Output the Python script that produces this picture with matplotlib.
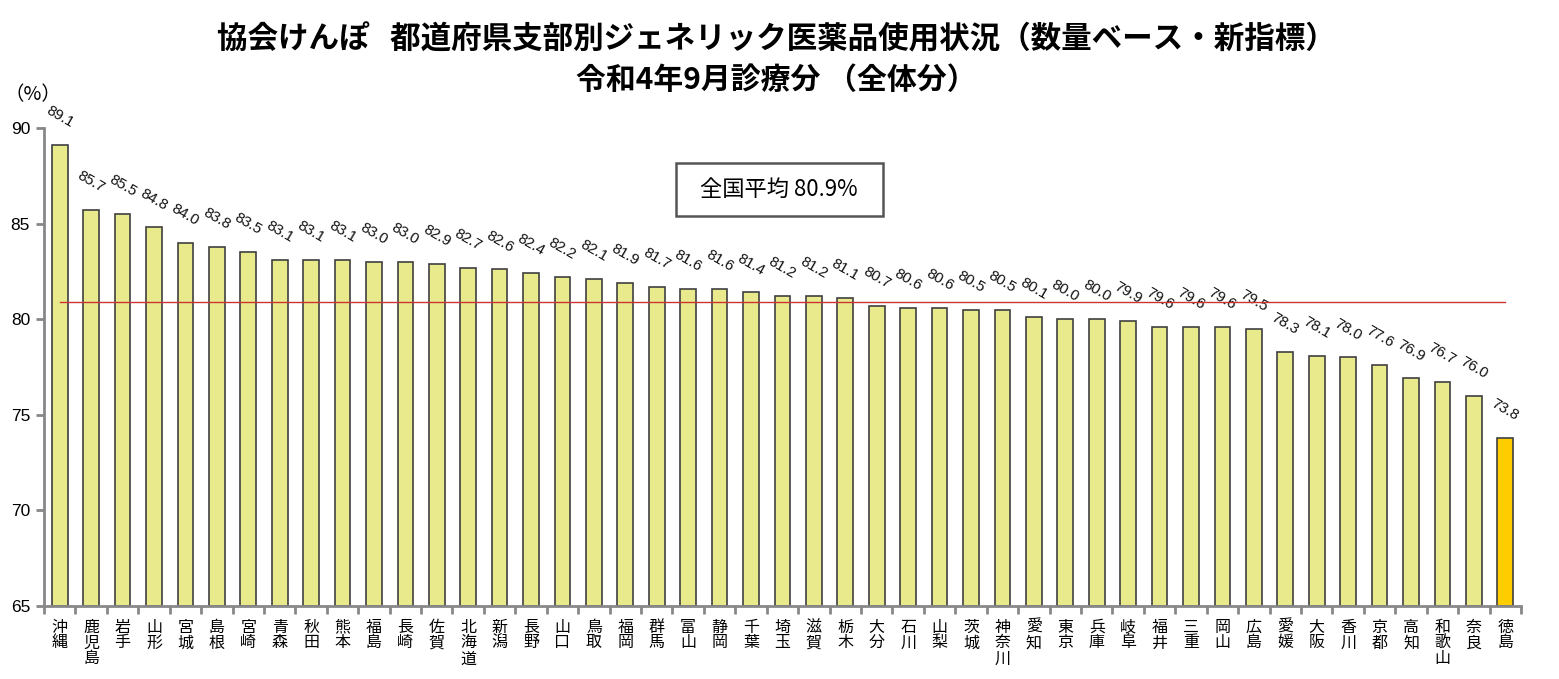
import numpy as np
import matplotlib
matplotlib.use('Agg')
import matplotlib.pyplot as plt
from matplotlib.patches import Rectangle

plt.rcParams['font.family'] = ['Noto Sans CJK JP', 'DejaVu Sans']

prefs = ['沖縄', '鹿児島', '岩手', '山形', '宮城', '島根', '宮崎', '青森', '秋田', '熊本',
         '福島', '長崎', '佐賀', '北海道', '新潟', '長野', '山口', '鳥取', '福岡', '群馬',
         '富山', '静岡', '千葉', '埼玉', '滋賀', '栃木', '大分', '石川', '山梨', '茨城',
         '神奈川', '愛知', '東京', '兵庫', '岐阜', '福井', '三重', '岡山', '広島', '愛媛',
         '大阪', '香川', '京都', '高知', '和歌山', '奈良', '徳島']
rates = [89.1, 85.7, 85.5, 84.8, 84.0, 83.8, 83.5, 83.1, 83.1, 83.1,
         83.0, 83.0, 82.9, 82.7, 82.6, 82.4, 82.2, 82.1, 81.9, 81.7,
         81.6, 81.6, 81.4, 81.2, 81.2, 81.1, 80.7, 80.6, 80.6, 80.5,
         80.5, 80.1, 80.0, 80.0, 79.9, 79.6, 79.6, 79.6, 79.5, 78.3,
         78.1, 78.0, 77.6, 76.9, 76.7, 76.0, 73.8]
national_avg = 80.9
highlight = '徳島'

num_font = ['Liberation Sans', 'Noto Sans CJK JP']

fig = plt.figure(figsize=(15.59, 6.79), dpi=100)
ax = fig.add_axes([0.0282, 0.1075, 0.9474, 0.704])

x = np.arange(len(prefs))
colors = ['#ffcc00' if p == highlight else '#e8ea8c' for p in prefs]
ax.bar(x, np.array(rates) - 65, bottom=65, width=0.5, color=colors,
       edgecolor='#404040', linewidth=1.2, zorder=2)

# value labels
for xi, v in zip(x, rates):
    ax.annotate(f'{v:.1f}', (xi, v), xytext=(0, 28), textcoords='offset pixels',
                ha='center', va='center', rotation=-30, rotation_mode='anchor',
                fontsize=10.8, family=num_font, color='#111111')

# national average line
ax.plot([x[0], x[-1]], [national_avg, national_avg], color='#cc3333', lw=1, zorder=3)

ax.set_xlim(-0.5, len(prefs) - 0.5)
ax.set_ylim(65, 90)
ax.set_yticks([65, 70, 75, 80, 85, 90])
ax.set_yticklabels(['65', '70', '75', '80', '85', '90'], family=num_font, fontsize=12.5)

ax.set_xticks(x)
ax.set_xticklabels(['\n'.join(p) for p in prefs], fontsize=11.5, linespacing=0.92, va='top')
ax.tick_params(axis='x', which='major', length=0, pad=9)
ax.set_xticks(np.arange(len(prefs) + 1) - 0.5, minor=True)
ax.tick_params(axis='x', which='minor', length=6, width=2, color='#888888')
ax.tick_params(axis='y', length=6, width=2, color='#888888', pad=4)

for side in ['top', 'right']:
    ax.spines[side].set_visible(False)
for side in ['left', 'bottom']:
    ax.spines[side].set_color('#888888')
    ax.spines[side].set_linewidth(2)

fig.text(0.021, 0.86, '（%）', fontsize=14, ha='center', va='center')

fig.text(0.498, 0.942, '協会けんぽ   都道府県支部別ジェネリック医薬品使用状況（数量ベース・新指標）',
         fontsize=22, fontweight='bold', ha='center', va='center')
fig.text(0.498, 0.882, '令和4年9月診療分 （全体分）',
         fontsize=21.5, fontweight='bold', ha='center', va='center')

fig.patches.append(Rectangle((0.4336, 0.6819), 0.1328, 0.078, transform=fig.transFigure,
                             facecolor='white', edgecolor='#555555', linewidth=1.8, zorder=5))
fig.text(0.4997, 0.721, f'全国平均 {national_avg}%', fontsize=16, ha='center', va='center',
         zorder=6)

fig.savefig('out.png', dpi=100)
